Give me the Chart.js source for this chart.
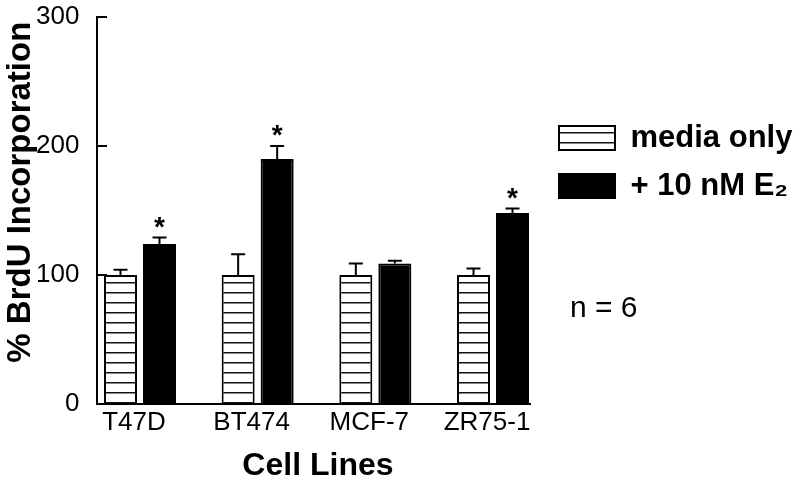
<!DOCTYPE html>
<html>
<head>
<meta charset="utf-8">
<script src="https://cdn.jsdelivr.net/npm/chart.js@4.4.1/dist/chart.umd.min.js"></script>
<style>
  html, body { margin: 0; padding: 0; background: #fff; }
  #wrap { width: 800px; height: 488px; position: relative; }
</style>
</head>
<body>
<div id="wrap"><canvas id="chart"></canvas></div>
<script>
const cellLines = ['T47D', 'BT474', 'MCF-7', 'ZR75-1'];
const mediaOnly = [100, 100, 100, 100];
const withE2 = [124, 190, 109, 148];
// upper error bars (SEM)
const mediaErr = [4, 16, 9, 5];
const e2Err = [5, 10, 2, 3.5];
const significant = [true, true, false, true];
const yTicks = [0, 100, 200, 300];
const sampleNote = 'n = 6';

const FONT = "'Liberation Sans', Arial, Helvetica, sans-serif";
Chart.defaults.font.family = FONT;
Chart.defaults.color = '#000';

// horizontal hatching used for the "media only" bars
function makeHatch() {
    const c = document.createElement('canvas');
    c.width = 4;
    c.height = 10;
    const g = c.getContext('2d');
    g.fillStyle = '#fff';
    g.fillRect(0, 0, 4, 10);
    g.fillStyle = '#111';
    g.fillRect(0, 2, 4, 1.5);
    return g.createPattern(c, 'repeat');
}

const errors = [mediaErr, e2Err];
const stars = [null, significant];

const errorBars = {
    id: 'errorBars',
    afterDatasetsDraw(chart) {
        const ctx = chart.ctx;
        const yScale = chart.scales.y;
        chart.data.datasets.forEach((ds, i) => {
            const meta = chart.getDatasetMeta(i);
            meta.data.forEach((bar, j) => {
                const top = yScale.getPixelForValue(ds.data[j].y + errors[i][j]);
                ctx.save();
                ctx.strokeStyle = '#000';
                ctx.lineWidth = 2;
                ctx.beginPath();
                ctx.moveTo(bar.x, bar.y);
                ctx.lineTo(bar.x, top);
                ctx.moveTo(bar.x - 7, top);
                ctx.lineTo(bar.x + 7, top);
                ctx.stroke();
                if (stars[i] && stars[i][j]) {
                    ctx.fillStyle = '#000';
                    ctx.font = 'bold 28px ' + FONT;
                    ctx.textAlign = 'center';
                    ctx.textBaseline = 'alphabetic';
                    ctx.fillText('*', bar.x, top - 2);
                }
                ctx.restore();
            });
        });
    },
    afterDraw(chart) {
        const ctx = chart.ctx;
        ctx.save();
        ctx.fillStyle = '#000';
        ctx.font = '30px ' + FONT;
        ctx.textAlign = 'left';
        ctx.textBaseline = 'alphabetic';
        ctx.fillText(sampleNote, chart.legend.left + 28, 317);
        ctx.restore();
    }
};

const ctx = document.getElementById('chart').getContext('2d');
new Chart(ctx, {
    type: 'bar',
    data: {
        datasets: [{
            label: 'media only',
            data: mediaOnly.map((v, i) => ({ x: i, y: v })),
            backgroundColor: makeHatch(),
            borderColor: '#000',
            borderWidth: 2
        }, {
            label: '+ 10 nM E\u2082',
            data: withE2.map((v, i) => ({ x: i, y: v })),
            backgroundColor: '#000',
            borderColor: '#000',
            borderWidth: 2
        }]
    },
    options: {
        responsive: true,
        maintainAspectRatio: false,
        animation: false,
        categoryPercentage: 0.663,
        barPercentage: 0.846,
        layout: { padding: { top: 17, left: 0, right: 0, bottom: 0 } },
        plugins: {
            tooltip: { enabled: false },
            legend: {
                position: 'right',
                align: 'start',
                maxWidth: 258,
                title: {
                    display: true,
                    text: ' ',
                    font: { size: 10, lineHeight: 1 },
                    padding: { top: 78.5, bottom: 0 }
                },
                labels: {
                    boxWidth: 56,
                    boxHeight: 24,
                    padding: 17,
                    color: '#000',
                    font: { size: 31, weight: 'bold' }
                }
            }
        },
        scales: {
            x: {
                type: 'linear',
                offset: false,
                min: -0.3654,
                max: 3.3144,
                afterBuildTicks: s => { s.ticks = cellLines.map((c, i) => ({ value: i })); },
                afterFit: s => { s.height = 84; },
                ticks: {
                    callback: v => cellLines[v],
                    font: { size: 26 },
                    color: '#000',
                    padding: 3,
                    labelOffset: -6,
                    maxRotation: 0,
                    autoSkip: false
                },
                grid: { display: false, drawTicks: false },
                border: { display: true, color: '#000', width: 2 },
                title: {
                    display: true,
                    text: ' Cell Lines',
                    color: '#000',
                    font: { size: 32, weight: 'bold' },
                    padding: { top: 0, bottom: 3 }
                }
            },
            y: {
                min: 0,
                max: 300,
                afterBuildTicks: s => { s.ticks = yTicks.map(v => ({ value: v })); },
                afterFit: s => {
                    s.width = 97;
                    s.paddingTop = 0;
                    s.paddingBottom = 0;
                },
                ticks: {
                    font: { size: 26 },
                    color: '#000',
                    padding: 27.5
                },
                grid: {
                    drawOnChartArea: false,
                    drawTicks: true,
                    tickLength: -10,
                    color: '#000',
                    lineWidth: 2
                },
                border: { display: true, color: '#000', width: 2 },
                title: {
                    display: true,
                    text: '    % BrdU Incorporation',
                    color: '#000',
                    font: { size: 33, weight: 'bold' },
                    padding: { top: 1.5, bottom: 0 }
                }
            },
            // spacer between the plot and the legend
            gap: {
                type: 'linear',
                position: 'right',
                afterFit: s => { s.width = 12; },
                ticks: { display: false },
                grid: { display: false },
                border: { display: false }
            }
        }
    },
    plugins: [errorBars]
});
</script>
</body>
</html>
